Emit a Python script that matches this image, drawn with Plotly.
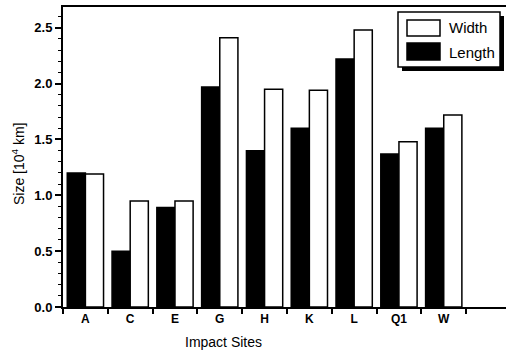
import plotly.graph_objects as go

sites = ["A", "C", "E", "G", "H", "K", "L", "Q1", "W"]
length_vals = [1.20, 0.50, 0.89, 1.97, 1.40, 1.60, 2.22, 1.37, 1.60]
width_vals = [1.19, 0.95, 0.95, 2.41, 1.95, 1.94, 2.48, 1.48, 1.72]
y_ticks = [0.0, 0.5, 1.0, 1.5, 2.0, 2.5]
y_tick_labels = ["0.0", "0.5", "1.0", "1.5", "2.0", "2.5"]

W, H = 506, 355
L, R, T, B = 63, 0, 7, 48
pw, ph = W - L - R, H - T - B

def px(x):
    return (x - L) / pw

def py(y):
    return (H - B - y) / ph

fig = go.Figure()
fig.add_trace(go.Bar(x=sites, y=length_vals, name="Length",
                     marker=dict(color="black", line=dict(color="black", width=1.5)),
                     showlegend=False))
fig.add_trace(go.Bar(x=sites, y=width_vals, name="Width",
                     marker=dict(color="white", line=dict(color="black", width=1.5)),
                     showlegend=False))

font = "Arial, Liberation Sans, sans-serif"
fig.update_layout(
    width=W, height=H,
    margin=dict(l=L, r=R, t=T, b=B, pad=0),
    paper_bgcolor="white", plot_bgcolor="white",
    barmode="group", bargap=0.19, bargroupgap=0.0,
    font=dict(family=font, color="black"),
    xaxis=dict(range=[-0.5, 9.39], showline=True, linecolor="black", linewidth=2,
               mirror=True, ticks="outside", ticklen=5, tickwidth=1.5, tickcolor="black",
               tickson="boundaries", showgrid=False, zeroline=False, automargin=False,
               tickfont=dict(size=12, family=font, weight="bold")),
    yaxis=dict(range=[0, 2.686], showline=True, linecolor="black", linewidth=2,
               ticks="outside", ticklen=6, tickwidth=1.5, tickcolor="black",
               tickvals=y_ticks, ticktext=y_tick_labels, showgrid=False, zeroline=False,
               automargin=False,
               tickfont=dict(size=13, family=font, weight="bold"),
               minor=dict(dtick=0.1, ticks="outside", ticklen=3, tickwidth=1, tickcolor="black")),
    showlegend=False,
)

# axis titles
fig.add_annotation(text="Impact Sites", xref="paper", yref="paper",
                   x=px(223), y=py(342), xanchor="center", yanchor="middle", showarrow=False,
                   font=dict(size=14, family=font, color="black"))
fig.add_annotation(text="Size [10<sup>4</sup> km]", xref="paper", yref="paper",
                   x=px(18), y=py(164), xanchor="center", yanchor="middle",
                   showarrow=False, textangle=-90,
                   font=dict(size=14, family=font, color="black"))

# custom legend with drop shadow
shapes = []
shapes.append(dict(type="rect", xref="paper", yref="paper",
                   x0=px(402), x1=px(504), y0=py(16), y1=py(71),
                   fillcolor="black", line=dict(color="black", width=0), layer="above"))
shapes.append(dict(type="rect", xref="paper", yref="paper",
                   x0=px(398), x1=px(500), y0=py(12), y1=py(67),
                   fillcolor="white", line=dict(color="black", width=1.5), layer="above"))
shapes.append(dict(type="rect", xref="paper", yref="paper",
                   x0=px(407), x1=px(440), y0=py(20), y1=py(36),
                   fillcolor="white", line=dict(color="black", width=1.5), layer="above"))
shapes.append(dict(type="rect", xref="paper", yref="paper",
                   x0=px(407), x1=px(440), y0=py(43), y1=py(60),
                   fillcolor="black", line=dict(color="black", width=1.5), layer="above"))
fig.update_layout(shapes=shapes)
fig.add_annotation(text="Width", xref="paper", yref="paper", x=px(447), y=py(28),
                   xanchor="left", yanchor="middle", showarrow=False,
                   font=dict(size=15, family=font, color="black"))
fig.add_annotation(text="Length", xref="paper", yref="paper", x=px(447), y=py(52),
                   xanchor="left", yanchor="middle", showarrow=False,
                   font=dict(size=15, family=font, color="black"))

fig.write_html("out.html", config={"displayModeBar": False},
               post_script="document.body.style.margin='0';document.body.style.padding='0';document.body.style.overflow='hidden';")
